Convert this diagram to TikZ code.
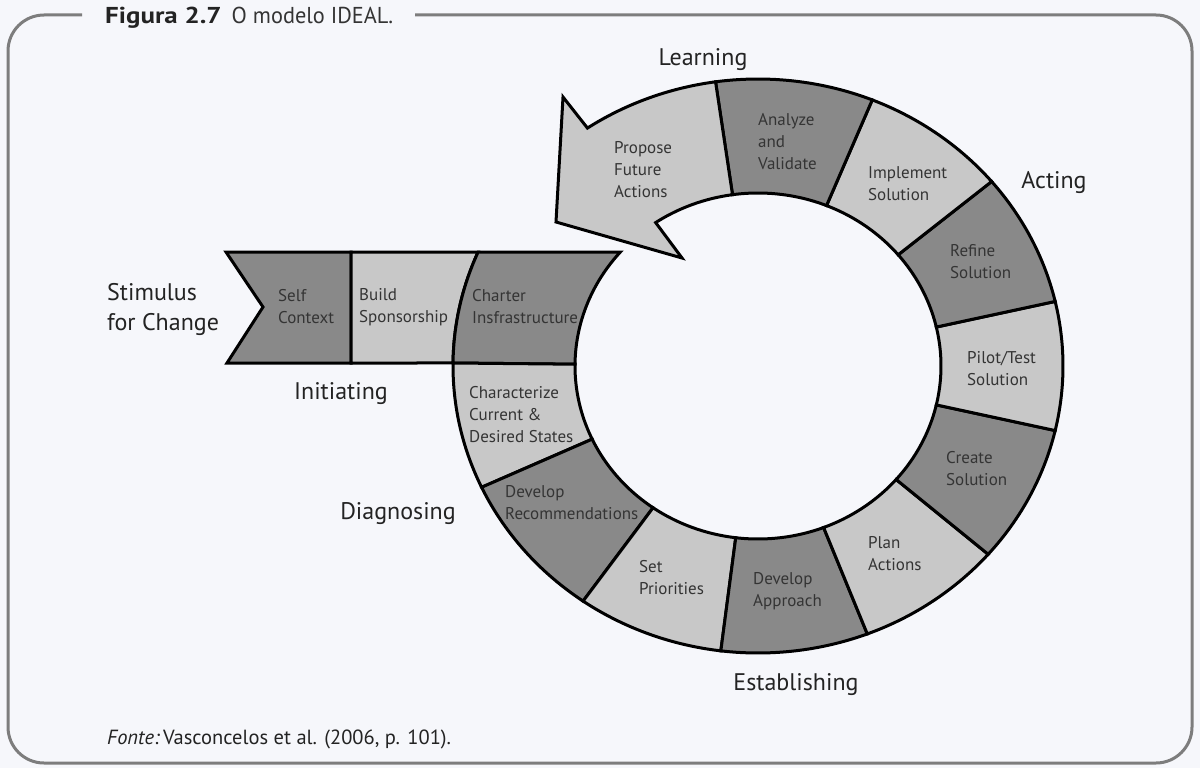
\documentclass[tikz,border=0pt]{standalone}
\usepackage{fontspec}
\setmainfont{PT Sans}
\definecolor{bg}{RGB}{246,247,251}
\definecolor{dk}{RGB}{137,137,137}
\definecolor{lt}{RGB}{200,200,200}
\definecolor{framegray}{RGB}{125,125,125}
\definecolor{txt}{RGB}{52,52,52}
\definecolor{txtb}{RGB}{35,35,35}
\def\cx{758}\def\cy{366}
\def\Ra{305}\def\Rb{287}
\def\ra{183}\def\rb{173}
\newcommand\ringseg[3]{%
  \draw[ring,fill=#3] plot[domain=#1:#2,samples=30,variable=\t]
    ({\cx+\Ra*cos(\t)},{\cy-\Rb*sin(\t)})
    -- plot[domain=0:1,samples=30,variable=\u]
    ({\cx+\ra*cos(#2-(#2-#1)*\u)},{\cy-\rb*sin(#2-(#2-#1)*\u)}) -- cycle;}
\begin{document}
\begin{tikzpicture}[x=1pt,y=-1pt,
  ring/.style={draw=black,line width=3,line join=miter},
  lbl/.style={font=\fontsize{17}{22}\selectfont,text=txt,align=left,anchor=west,inner sep=0},
  big/.style={font=\fontsize{24}{30}\selectfont,text=txtb,inner sep=0}]
\useasboundingbox (0,0) rectangle (1200,768);
\fill[bg] (0,0) rectangle (1200,768);
% frame
\draw[framegray,line width=3,rounded corners=36] (82,15) -- (8,15) -- (8,763) -- (1192,763) -- (1192,15) -- (415,15);
\node[anchor=base west,inner sep=0,font=\fontsize{23}{28}\selectfont,text=txtb] (title) at (105,23.5)
  {\scalebox{1.17}[1]{\textbf{Figura 2.7}}\hspace{10pt}\textcolor{txt}{\scalebox{0.97}[1]{O modelo IDEAL.}}};
% initiating band
\draw[ring,fill=dk] (226,252) -- (351,252) -- (351,363) -- (227,363) -- (263,307) -- cycle;
\draw[ring,fill=lt] (351,252) -- plot[domain=156.6:179.4,samples=30,variable=\t]
    ({\cx+\Ra*cos(\t)},{\cy-\Rb*sin(\t)}) -- (351,363) -- cycle;
\draw[ring,fill=dk] plot[domain=156.6:179.4,samples=30,variable=\t]
    ({\cx+\Ra*cos(\t)},{\cy-\Rb*sin(\t)})
    -- plot[domain=0:1,samples=30,variable=\u]
    ({\cx+\ra*cos(179.4-40.6*\u)},{\cy-\rb*sin(179.4-40.6*\u)}) -- cycle;
% ring
\ringseg{179.4}{205}{lt}
\ringseg{205}{235}{dk}
\ringseg{235}{263}{lt}
\ringseg{263}{291}{dk}
\ringseg{291}{319}{lt}
\ringseg{319}{347}{dk}
\ringseg{347}{373}{lt}
\ringseg{13}{40}{dk}
\ringseg{40}{68}{lt}
\ringseg{68}{98}{dk}
% arrow segment
\draw[ring,fill=lt] plot[domain=98:124,samples=30,variable=\t]
    ({\cx+\Ra*cos(\t)},{\cy-\Rb*sin(\t)})
    -- (563,97) -- (556,222) -- (682,258)
    -- plot[domain=0:1,samples=30,variable=\u]
    ({\cx+\ra*cos(124-26*\u)},{\cy-\rb*sin(124-26*\u)}) -- cycle;
% segment labels
\node[lbl] (self) at (278,307) {Self\\Context};
\node[lbl] (build) at (359,307) {Build\\Sponsorship};
\node[lbl] (charter) at (472,307) {Charter\\Insfrastructure};
\node[lbl] (charact) at (469,415) {Characterize\\Current \&\\Desired States};
\node[lbl] (devrec) at (505,503) {Develop\\Recommendations};
\node[lbl] (setpri) at (639,578) {Set\\Priorities};
\node[lbl] (devapp) at (753,591) {Develop\\Approach};
\node[lbl] (plan) at (868,554) {Plan\\Actions};
\node[lbl] (create) at (946,469) {Create\\Solution};
\node[lbl] (pilot) at (967,369) {Pilot/Test\\Solution};
\node[lbl] (refine) at (950,262) {Refine\\Solution};
\node[lbl] (implement) at (868,184) {Implement\\Solution};
\node[lbl] (analyze) at (758,142) {Analyze\\and\\Validate};
\node[lbl] (propose) at (614,170) {Propose\\Future\\Actions};
% phase labels
\node[big,anchor=base] (learning) at (703,66) {Learning};
\node[big,anchor=base] (acting) at (1054,188) {Acting};
\node[big,anchor=west,align=left] (stimulus) at (107,309) {Stimulus\\for Change};
\node[big,anchor=base] (initiating) at (341,399) {Initiating};
\node[big,anchor=base] (diagnosing) at (398,519) {Diagnosing};
\node[big,anchor=base] (establishing) at (796,690) {Establishing};
% source
\node[anchor=base west,inner sep=0,font=\fontsize{20.5}{24}\selectfont,text=txtb] (fonte) at (107,744)
  {\textit{Fonte:}\hspace{3pt}Vasconcelos et al. (2006, p. 101).};
\end{tikzpicture}
\end{document}
